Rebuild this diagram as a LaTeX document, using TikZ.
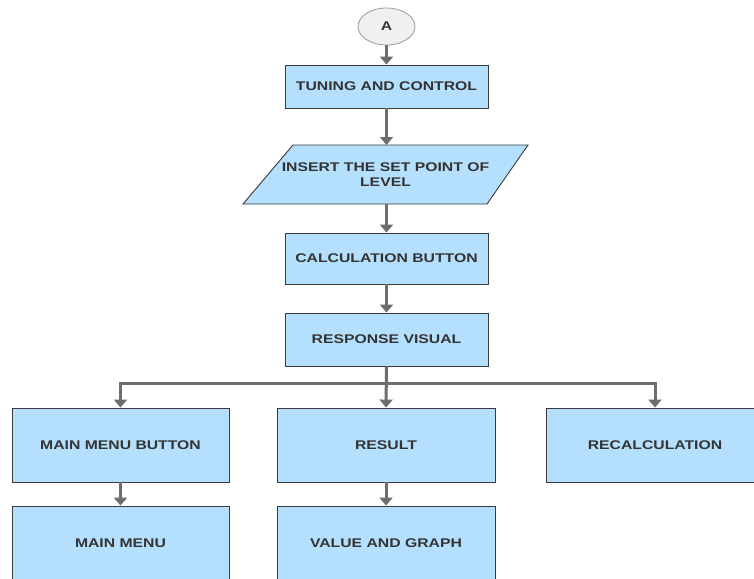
\documentclass[tikz,border=0pt]{standalone}
\usepackage{fontspec}
\setmainfont{Liberation Sans}[FakeStretch=1.25]
\usetikzlibrary{arrows.meta,shapes.geometric}
\definecolor{boxfill}{HTML}{B4E0FD}
\definecolor{boxline}{HTML}{3A3A3A}
\definecolor{arrcol}{HTML}{6E6E6E}
\definecolor{txt}{HTML}{333333}
\tikzset{
  x=1pt, y=-1pt,
  lbl/.style={font=\fontsize{12.6}{15}\selectfont\bfseries, text=txt},
  pbox/.style={lbl, draw=boxline, fill=boxfill, line width=0.9pt, inner sep=0pt, align=center},
  conn/.style={draw=arrcol, line width=3pt, -{Triangle[width=13pt,length=8pt]}},
  plain/.style={draw=arrcol, line width=3pt}
}
\begin{document}
\begin{tikzpicture}
\useasboundingbox (0,0) rectangle (754,578);
\clip (0,0) rectangle (754,578);
% start connector
\node[lbl, draw=gray!80, fill=gray!12, line width=0.8pt, ellipse, minimum width=57pt, minimum height=37pt, inner sep=0pt] (A) at (386.5,26.5) {A};
\node[pbox, minimum width=203pt, minimum height=43pt] (tune) at (386.5,86.5) {TUNING AND CONTROL};
% parallelogram
\path[draw=boxline, fill=boxfill, line width=0.9pt] (293,145) -- (528,145) -- (487,204) -- (243,204) -- cycle;
\node[lbl, align=center, inner sep=0pt] (ins) at (385.5,174.5) {INSERT THE SET POINT OF\\LEVEL};
\coordinate (insT) at (386.5,145);
\coordinate (insB) at (386.5,204);
\node[pbox, minimum width=203pt, minimum height=51pt] (calc) at (386.5,258.5) {CALCULATION BUTTON};
\node[pbox, minimum width=203pt, minimum height=53pt] (resp) at (386.5,339.5) {RESPONSE VISUAL};
\node[pbox, minimum width=217pt, minimum height=74pt] (mmb) at (120.5,445) {MAIN MENU BUTTON};
\node[pbox, minimum width=217pt, minimum height=74pt] (mm) at (120.5,543) {MAIN MENU};
\node[pbox, minimum width=218pt, minimum height=74pt] (res) at (386,445) {RESULT};
\node[pbox, minimum width=218pt, minimum height=74pt] (vg) at (386,543) {VALUE AND GRAPH};
\node[pbox, minimum width=218pt, minimum height=74pt] (rec) at (655,445) {RECALCULATION};
\coordinate (br) at (386.5,383);
% connectors
\draw[conn] (A) -- (tune);
\draw[conn] (tune) -- (insT);
\draw[conn] (insB) -- (calc);
\draw[conn] (calc) -- (resp);
\draw[conn] (resp.south) -- (res.north);
\draw[conn] (br) -| (mmb.north);
\draw[conn] (br) -| (rec.north);
\draw[conn] (mmb) -- (mm);
\draw[conn] (res) -- (vg);
\end{tikzpicture}
\end{document}
